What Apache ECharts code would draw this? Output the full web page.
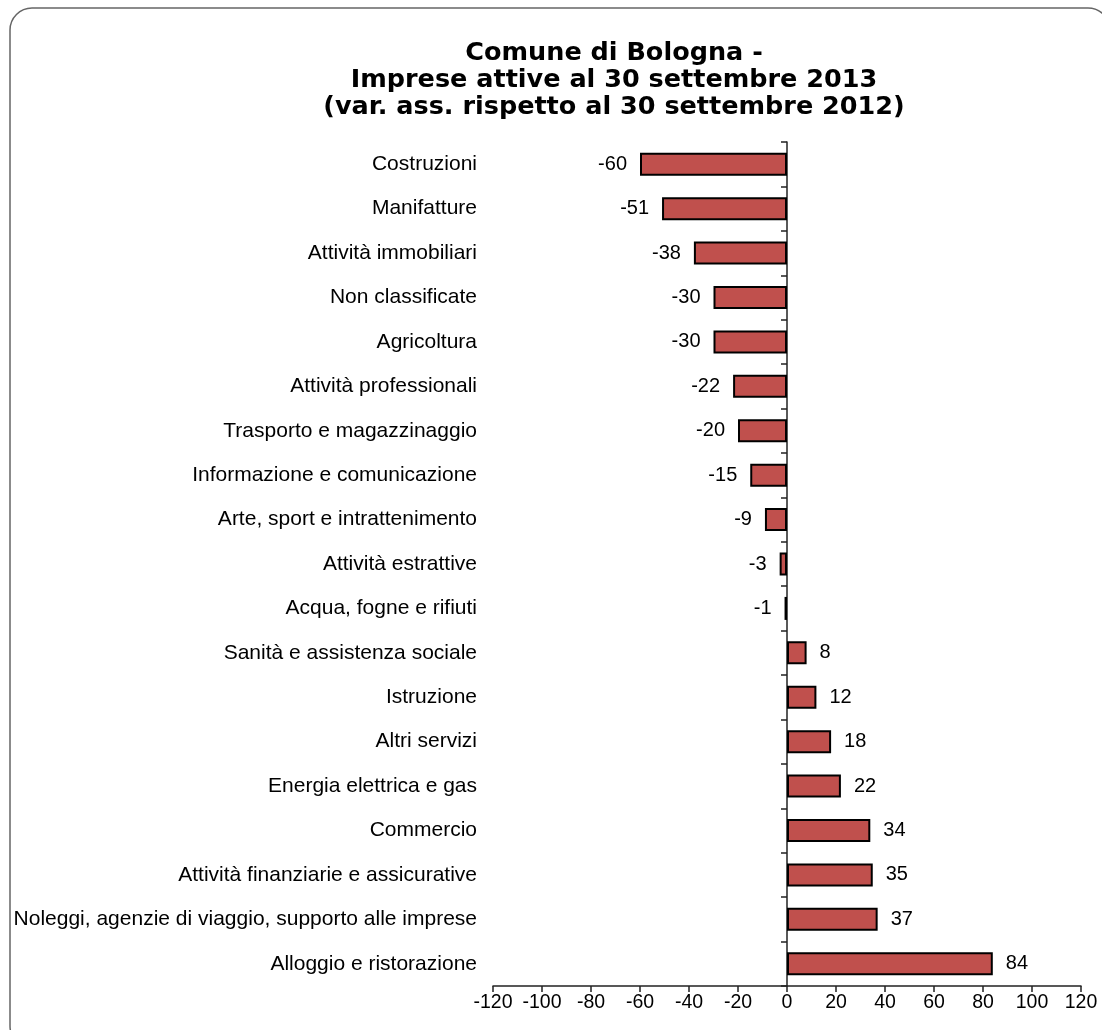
<!DOCTYPE html>
<html>
<head>
<meta charset="utf-8">
<script src="https://cdn.jsdelivr.net/npm/echarts@6/dist/echarts.min.js"></script>
<style>
html,body{margin:0;padding:0;background:#fff;}
#chart{width:1102px;height:1030px;}
</style>
</head>
<body>
<div id="chart"></div>
<script>
const categories = [
  'Costruzioni', 'Manifatture', 'Attività immobiliari', 'Non classificate', 'Agricoltura',
  'Attività professionali', 'Trasporto e magazzinaggio', 'Informazione e comunicazione',
  'Arte, sport e intrattenimento', 'Attività estrattive', 'Acqua, fogne e rifiuti',
  'Sanità e assistenza sociale', 'Istruzione', 'Altri servizi', 'Energia elettrica e gas',
  'Commercio', 'Attività finanziarie e assicurative',
  'Noleggi, agenzie di viaggio, supporto alle imprese', 'Alloggio e ristorazione'
];
const values = [-60, -51, -38, -30, -30, -22, -20, -15, -9, -3, -1, 8, 12, 18, 22, 34, 35, 37, 84];
const titleLines = ['Comune di Bologna -', 'Imprese attive al 30 settembre 2013', '(var. ass. rispetto al 30 settembre 2012)'];

const chart = echarts.init(document.getElementById('chart'));
const font = '"Liberation Sans", Arial, sans-serif';
chart.setOption({
  animation: false,
  backgroundColor: '#fff',
  title: {
    text: titleLines.join('\n'),
    left: 609, top: 35, textAlign: 'center',
    textStyle: { fontFamily: '"DejaVu Sans", Verdana, sans-serif', fontWeight: 'bold', fontSize: 25.5, lineHeight: 27, color: '#000' }
  },
  graphic: [{
    type: 'rect', silent: true, z: -1,
    shape: { x: 10, y: 8, width: 1100, height: 1040, r: 22 },
    style: { fill: 'none', stroke: '#666', lineWidth: 1.5 }
  }],
  grid: { left: 493, right: 21, top: 142, bottom: 44, containLabel: false },
  xAxis: {
    type: 'value', min: -120, max: 120, interval: 20, position: 'bottom',
    axisLine: { show: true, onZero: false, lineStyle: { color: '#222', width: 1.5 } },
    axisTick: { show: true, length: 6, lineStyle: { color: '#222', width: 1.5 } },
    axisLabel: { fontFamily: font, fontSize: 19.5, color: '#000', margin: 7 },
    splitLine: { show: false }
  },
  yAxis: [{
    type: 'category', data: categories, inverse: true, position: 'left',
    axisLine: { show: false, onZero: false },
    axisTick: { show: false },
    axisLabel: { fontFamily: font, fontSize: 21, color: '#000', margin: 16 },
    splitLine: { show: false }
  }, {
    type: 'category', data: categories, inverse: true, position: 'left',
    axisLine: { show: true, onZero: true, lineStyle: { color: '#222', width: 1.5 } },
    axisTick: { show: true, length: 6, lineStyle: { color: '#222', width: 1.5 } },
    axisLabel: { show: false },
    splitLine: { show: false }
  }],
  series: [{
    type: 'bar', yAxisIndex: 0, barWidth: 23,
    data: values.map(v => ({ value: v, label: { position: v < 0 ? 'left' : 'right' } })),
    itemStyle: { color: '#C0504D', borderColor: '#000', borderWidth: 2 },
    label: { show: true, distance: 13, fontFamily: font, fontSize: 20, color: '#000' },
    z: 1
  }]
});
</script>
</body>
</html>
